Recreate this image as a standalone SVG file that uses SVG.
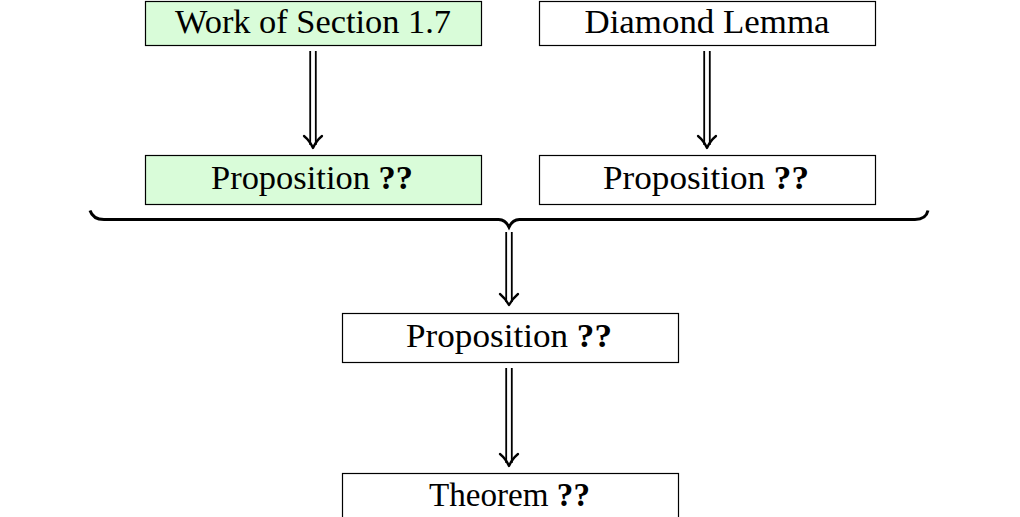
<svg xmlns="http://www.w3.org/2000/svg" width="1020" height="517" viewBox="0 0 1020 517">
<style>
.box{stroke:#000;stroke-width:1.2;}
.plain{fill:#fff;}
.green{fill:#d9fcd9;}
.lbl{font-family:"Liberation Serif","Times New Roman",serif;font-size:33px;fill:#000;text-anchor:middle;}
.b{font-weight:bold;}
.shaft{stroke:#000;stroke-width:1.8;fill:none;}
.head{stroke:#000;stroke-width:2.3;fill:none;stroke-linecap:round;stroke-linejoin:round;}
.brace{stroke:#000;stroke-width:3;fill:none;stroke-linecap:butt;}
</style>
<rect width="1020" height="517" fill="#fff"/>
<g id="n-work">
<rect class="box green" x="145.5" y="1.5" width="336" height="44"/>
<text class="lbl" x="313" y="33" textLength="276" lengthAdjust="spacingAndGlyphs">Work of Section 1.7</text>
</g>
<g id="n-diamond">
<rect class="box plain" x="539.5" y="1.5" width="336" height="44"/>
<text class="lbl" x="707" y="33" textLength="245" lengthAdjust="spacingAndGlyphs">Diamond Lemma</text>
</g>
<g id="n-prop-left">
<rect class="box green" x="145.5" y="155.5" width="336" height="49"/>
<text class="lbl" x="312" y="188.5" textLength="202" lengthAdjust="spacingAndGlyphs">Proposition <tspan class="b">??</tspan></text>
</g>
<g id="n-prop-right">
<rect class="box plain" x="539.5" y="155.5" width="336" height="49"/>
<text class="lbl" x="706" y="188.5" textLength="206" lengthAdjust="spacingAndGlyphs">Proposition <tspan class="b">??</tspan></text>
</g>
<g id="n-prop-mid">
<rect class="box plain" x="342.5" y="313.5" width="336" height="49"/>
<text class="lbl" x="509" y="346.5" textLength="206" lengthAdjust="spacingAndGlyphs">Proposition <tspan class="b">??</tspan></text>
</g>
<g id="n-theorem">
<rect class="box plain" x="342.5" y="473.5" width="336" height="49"/>
<text class="lbl" x="509.5" y="506" textLength="161" lengthAdjust="spacingAndGlyphs">Theorem <tspan class="b">??</tspan></text>
</g>
<g id="connectors">
<path class="brace" d="M90,210.5 Q93,219.5 104,219.5 L497,219.5 Q505,218.5 509,227 Q513,218.5 521,219.5 L915,219.5 Q926,219.5 928,210.5"/>
<path class="shaft" d="M310.2,51 V145 M315.8,51 V145"/>
<path class="head" d="M304,136 Q310,141 313,148 Q316,141 322,136"/>
<path class="shaft" d="M704.2,51 V145 M709.8,51 V145"/>
<path class="head" d="M698,136 Q704,141 707,148 Q710,141 716,136"/>
<path class="shaft" d="M506.2,232 V302 M511.8,232 V302"/>
<path class="head" d="M500,294 Q506,299 509,305 Q512,299 518,294"/>
<path class="shaft" d="M506.2,368 V463 M511.8,368 V463"/>
<path class="head" d="M500,454 Q506,459 509,466 Q512,459 518,454"/>
</g>
</svg>
